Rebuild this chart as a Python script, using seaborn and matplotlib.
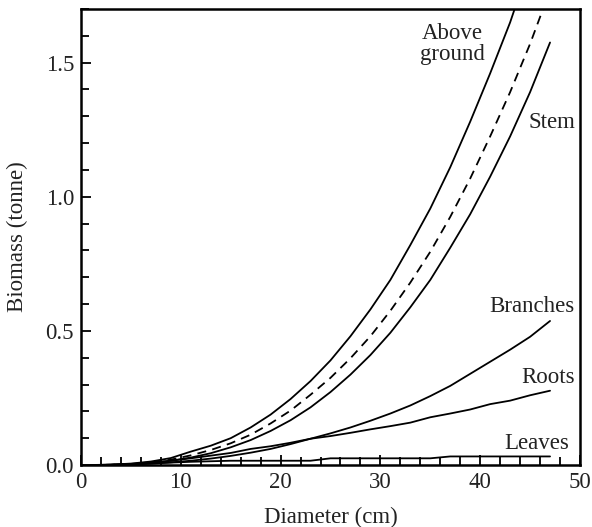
import matplotlib
matplotlib.use("Agg")
import matplotlib.pyplot as plt
import seaborn as sns
import pandas as pd
from matplotlib.ticker import MultipleLocator

diameter = [1, 3, 5, 7, 9, 11, 13, 15, 17, 19, 21, 23, 25, 27, 29, 31, 33, 35, 37, 39, 41, 43, 45, 47]

above_ground = [0.0001, 0.0014, 0.0054, 0.013, 0.026, 0.050, 0.072, 0.100, 0.140, 0.188, 0.246, 0.313,
                0.390, 0.480, 0.580, 0.690, 0.820, 0.956, 1.110, 1.280, 1.460, 1.650, 1.870, 2.100]
total_mean = [0.0001, 0.001, 0.004, 0.010, 0.020, 0.036, 0.056, 0.081, 0.113, 0.155, 0.203, 0.262,
              0.325, 0.398, 0.480, 0.575, 0.680, 0.795, 0.925, 1.068, 1.225, 1.390, 1.570, 1.770]
stem = [0.00004, 0.00075, 0.0031, 0.0079, 0.0159, 0.0277, 0.044, 0.066, 0.093, 0.127, 0.167, 0.215,
        0.272, 0.337, 0.410, 0.493, 0.588, 0.690, 0.810, 0.935, 1.075, 1.225, 1.390, 1.575]
branches = [0.0, 0.0005, 0.002, 0.005, 0.010, 0.016, 0.024, 0.034, 0.046, 0.060, 0.078, 0.098,
            0.118, 0.140, 0.165, 0.192, 0.222, 0.257, 0.295, 0.340, 0.385, 0.430, 0.478, 0.537]
roots = [0.0, 0.001, 0.004, 0.009, 0.016, 0.025, 0.035, 0.045, 0.060, 0.070, 0.083, 0.098,
         0.108, 0.120, 0.133, 0.145, 0.158, 0.178, 0.192, 0.207, 0.227, 0.240, 0.260, 0.277]
leaves = [0.0, 0.001, 0.003, 0.006, 0.009, 0.012, 0.014, 0.016, 0.016, 0.016, 0.016, 0.016,
          0.025, 0.025, 0.025, 0.025, 0.025, 0.025, 0.032, 0.032, 0.032, 0.032, 0.032, 0.032]

series = {
    "Above ground": above_ground,
    "Mean": total_mean,
    "Stem": stem,
    "Branches": branches,
    "Roots": roots,
    "Leaves": leaves,
}

labels = ["Above\nground", "Stem", "Branches", "Roots", "Leaves"]

rows = []
for name, vals in series.items():
    for d, v in zip(diameter, vals):
        rows.append({"Diameter": d, "Biomass": v, "Component": name})
df = pd.DataFrame(rows)

sns.set_theme(style="ticks")
plt.rcParams["font.family"] = ["Liberation Serif", "DejaVu Serif"]
FS = 16.5
plt.rcParams["font.size"] = FS

fig = plt.figure(figsize=(5.92, 5.27), dpi=100)
ax = fig.add_axes([0.1368, 0.1176, 0.9797 - 0.1368, 0.983 - 0.1176])

sns.lineplot(data=df, x="Diameter", y="Biomass", hue="Component", style="Component",
             palette={k: "black" for k in series},
             dashes={k: ((5, 3.5) if k == "Mean" else "") for k in series},
             linewidth=1.3, legend=False, ax=ax)

ax.set_xlim(0, 50)
ax.set_ylim(0, 1.7)
ax.xaxis.set_major_locator(MultipleLocator(10))
ax.xaxis.set_minor_locator(MultipleLocator(2))
ax.yaxis.set_major_locator(MultipleLocator(0.5))
ax.yaxis.set_minor_locator(MultipleLocator(0.1))
ax.yaxis.set_major_formatter(matplotlib.ticker.FormatStrFormatter("%.1f"))
ax.tick_params(which="both", direction="in", color="black", width=1.3,
               labelsize=FS, labelcolor="#222222", top=False, right=False)
ax.tick_params(which="major", length=7, pad=5)
ax.tick_params(which="minor", length=6)
for s in ax.spines.values():
    s.set_color("black")
    s.set_linewidth(1.8)

ax.set_xlabel("Diameter (cm)", fontsize=FS, color="#222222")
ax.set_ylabel("Biomass (tonne)", fontsize=FS, color="#222222")
ax.xaxis.label.set_va("center")
ax.yaxis.label.set_va("center")
ax.xaxis.set_label_coords(0.5, -0.114)
ax.yaxis.set_label_coords(-0.128, 0.5)

txt = dict(fontsize=FS, color="#222222")
ax.text(37.2, 1.57, labels[0], ha="center", va="center", linespacing=1.0, **txt)
ax.text(47.2, 1.276, labels[1], ha="center", va="center", **txt)
ax.text(45.2, 0.59, labels[2], ha="center", va="center", **txt)
ax.text(46.8, 0.328, labels[3], ha="center", va="center", **txt)
ax.text(45.7, 0.082, labels[4], ha="center", va="center", **txt)

fig.savefig("out.png", dpi=100)
